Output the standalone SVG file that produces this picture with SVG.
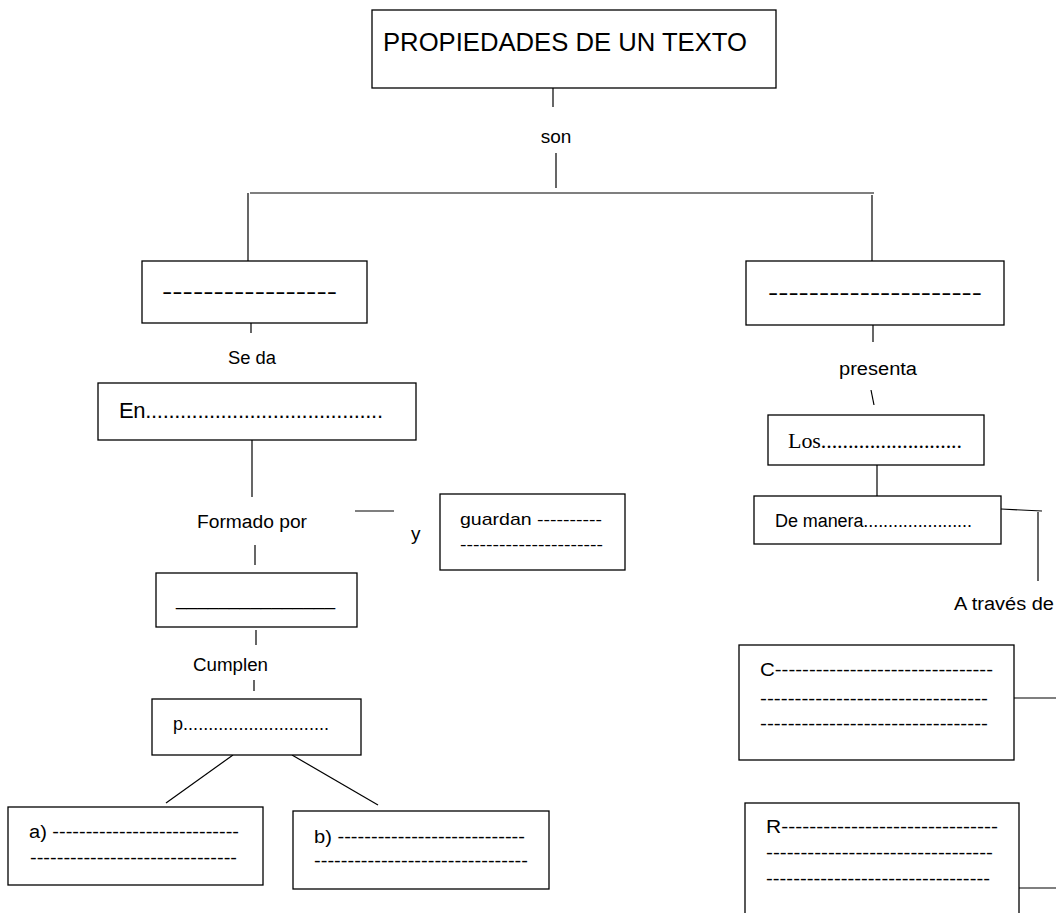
<svg xmlns="http://www.w3.org/2000/svg" width="1056" height="913" viewBox="0 0 1056 913">
<style>
.box{fill:#fff;stroke:#000;stroke-width:1.3}
.ln{stroke:#000;stroke-width:1.2;fill:none}
.t{font-family:"Liberation Sans",Arial,sans-serif;font-size:18px;fill:#000}
.tm{font-family:"Liberation Serif","Times New Roman",serif;font-size:22px;fill:#000}
</style>
<rect width="1056" height="913" fill="#fff"/>
<g id="connectors">
<line class="ln" x1="553" y1="79" x2="553" y2="107"/>
<line class="ln" x1="556" y1="153" x2="556" y2="188"/>
<line class="ln" x1="250" y1="193" x2="874" y2="193"/>
<line class="ln" x1="248" y1="193" x2="248" y2="261"/>
<line class="ln" x1="872" y1="195" x2="872" y2="268"/>
<line class="ln" x1="251" y1="302" x2="251" y2="333"/>
<line class="ln" x1="873" y1="305" x2="873" y2="342"/>
<line class="ln" x1="871" y1="390" x2="874" y2="405"/>
<line class="ln" x1="252" y1="422" x2="252" y2="497"/>
<line class="ln" x1="355" y1="511" x2="394" y2="511"/>
<line class="ln" x1="255" y1="545" x2="255" y2="565"/>
<line class="ln" x1="256" y1="630" x2="256" y2="645"/>
<line class="ln" x1="254" y1="680" x2="254" y2="691"/>
<line class="ln" x1="233" y1="755" x2="166" y2="803"/>
<line class="ln" x1="292" y1="755" x2="378" y2="805"/>
<line class="ln" x1="877" y1="465" x2="877" y2="496"/>
<line class="ln" x1="1001" y1="509" x2="1042" y2="511"/>
<line class="ln" x1="1038" y1="512" x2="1038" y2="581"/>
<line class="ln" x1="1014" y1="698" x2="1056" y2="698"/>
<line class="ln" x1="1019" y1="888" x2="1056" y2="888"/>
</g>
<g id="labels">
<text class="t" x="556" y="143" text-anchor="middle" style="font-size:19px">son</text>
<text class="t" x="228" y="364" textLength="48" lengthAdjust="spacingAndGlyphs">Se da</text>
<text class="t" x="839" y="375" textLength="78" lengthAdjust="spacingAndGlyphs">presenta</text>
<text class="t" x="197" y="528" textLength="110" lengthAdjust="spacingAndGlyphs">Formado por</text>
<text class="t" x="411" y="540" style="font-size:19px">y</text>
<text class="t" x="193" y="671" textLength="75" lengthAdjust="spacingAndGlyphs">Cumplen</text>
<text class="t" x="954" y="610" textLength="100" lengthAdjust="spacingAndGlyphs">A través de</text>
</g>
<g id="n-title">
<rect class="box" x="372" y="10" width="404" height="78"/>
<text class="t" x="383" y="51" style="font-size:26px" textLength="364" lengthAdjust="spacingAndGlyphs">PROPIEDADES DE UN TEXTO</text>
</g>
<g id="n-left">
<rect class="box" x="142" y="261" width="225" height="62"/>
<text class="t" x="162" y="299" style="font-size:22px" textLength="175" lengthAdjust="spacingAndGlyphs">-----------------</text>
</g>
<g id="n-right">
<rect class="box" x="746" y="261" width="258" height="64"/>
<text class="t" x="768" y="300" style="font-size:22px" textLength="214" lengthAdjust="spacingAndGlyphs">---------------------</text>
</g>
<g id="n-en">
<rect class="box" x="98" y="383" width="318" height="57"/>
<text class="t" x="119" y="418" style="font-size:22px" textLength="264" lengthAdjust="spacing">En.........................................</text>
</g>
<g id="n-los">
<rect class="box" x="768" y="415" width="216" height="50"/>
<text class="tm" x="788" y="448" textLength="174" lengthAdjust="spacing">Los..........................</text>
</g>
<g id="n-guardan">
<rect class="box" x="440" y="494" width="185" height="76"/>
<text class="t" x="460" y="525" style="font-size:17px" textLength="142" lengthAdjust="spacingAndGlyphs">guardan ----------</text>
<text class="t" x="460" y="550" style="font-size:17px" textLength="143" lengthAdjust="spacingAndGlyphs">----------------------</text>
</g>
<g id="n-manera">
<rect class="box" x="754" y="496" width="247" height="48"/>
<text class="t" x="775" y="527" textLength="197" lengthAdjust="spacing">De manera......................</text>
</g>
<g id="n-blank">
<rect class="box" x="156" y="573" width="201" height="54"/>
<text class="t" x="176" y="605" style="font-size:20px" textLength="159" lengthAdjust="spacingAndGlyphs">_______________</text>
</g>
<g id="n-p">
<rect class="box" x="152" y="699" width="209" height="56"/>
<text class="t" x="173" y="730" textLength="156" lengthAdjust="spacing">p.............................</text>
</g>
<g id="n-a">
<rect class="box" x="8" y="807" width="255" height="78"/>
<text class="t" x="29" y="838" textLength="210" lengthAdjust="spacingAndGlyphs">a) ----------------------------</text>
<text class="t" x="30" y="864" textLength="207" lengthAdjust="spacingAndGlyphs">-------------------------------</text>
</g>
<g id="n-b">
<rect class="box" x="293" y="811" width="256" height="78"/>
<text class="t" x="314" y="843" textLength="211" lengthAdjust="spacingAndGlyphs">b) ----------------------------</text>
<text class="t" x="314" y="867" textLength="214" lengthAdjust="spacingAndGlyphs">--------------------------------</text>
</g>
<g id="n-c">
<rect class="box" x="739" y="645" width="275" height="115"/>
<text class="t" x="760" y="676" textLength="233" lengthAdjust="spacingAndGlyphs">C--------------------------------</text>
<text class="t" x="760" y="705" textLength="228" lengthAdjust="spacingAndGlyphs">---------------------------------</text>
<text class="t" x="760" y="730" textLength="228" lengthAdjust="spacingAndGlyphs">---------------------------------</text>
</g>
<g id="n-r">
<rect class="box" x="745" y="803" width="274" height="140"/>
<text class="t" x="766" y="833" textLength="232" lengthAdjust="spacingAndGlyphs">R-------------------------------</text>
<text class="t" x="766" y="859" textLength="227" lengthAdjust="spacingAndGlyphs">---------------------------------</text>
<text class="t" x="766" y="885" textLength="224" lengthAdjust="spacingAndGlyphs">---------------------------------</text>
</g>
</svg>
